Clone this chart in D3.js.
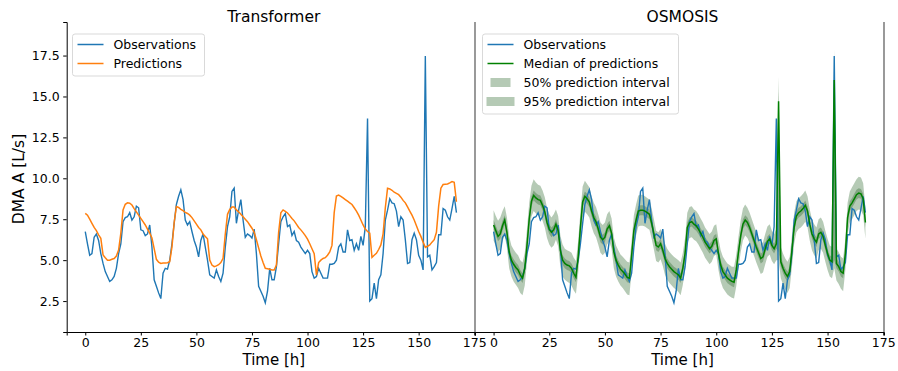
<!DOCTYPE html>
<html><head><meta charset="utf-8">
<script src="https://cdn.jsdelivr.net/npm/d3@7"></script>
<style>body{margin:0;background:#fff}svg{display:block;font-family:"DejaVu Sans",sans-serif}</style>
</head><body><svg id="c" width="898" height="371"></svg>
<script>
const hours = d3.range(168);
const xTicks = [0,25,50,75,100,125,150,175];
const yTicks = [2.5,5.0,7.5,10.0,12.5,15.0,17.5];
const observations = [6.74,6.0,5.3,5.4,6.4,6.6,6.2,5.4,4.8,4.3,
4.0,3.7,3.8,4.0,4.5,5.4,6.0,7.35,7.6,7.65,
7.9,7.45,7.65,8.3,8.2,6.85,6.8,6.5,6.6,7.15,
5.8,3.8,3.4,3.0,2.65,4.2,4.5,4.45,5.0,6.0,
7.25,8.4,8.9,9.3,8.7,7.45,7.15,7.35,6.75,6.2,
5.8,5.2,6.2,6.6,5.8,5.0,4.1,4.0,3.9,4.4,
4.0,3.7,4.2,5.8,7.05,7.65,9.2,9.4,7.25,8.05,
8.7,7.45,6.4,6.6,6.5,6.35,6.9,5.4,3.4,3.1,
2.8,2.4,3.1,4.5,3.8,3.8,4.6,6.0,7.35,7.65,
7.85,7.05,7.15,6.5,6.75,6.2,6.1,5.8,5.6,5.4,
5.6,5.4,4.3,3.9,4.0,4.5,4.2,3.9,3.9,3.9,
4.75,4.75,4.8,5.0,5.8,6.0,5.5,5.5,6.85,6.2,
6.25,5.6,6.0,5.6,6.45,5.9,7.05,13.65,2.5,2.65,
3.6,2.65,3.8,4.1,5.4,7.45,8.05,8.75,8.5,8.45,
8.0,7.05,7.65,7.45,6.25,4.8,4.85,6.25,6.65,6.25,
5.3,5.0,4.4,17.47,5.2,5.3,4.4,4.6,4.85,6.55,
6.55,8.15,8.05,7.65,7.45,8.15,8.9,7.9];
const transformerPred = [7.86,7.75,7.5,7.25,7.0,6.8,6.55,6.33,5.32,5.15,
5.0,5.0,5.05,5.1,5.25,5.62,6.64,8.07,8.41,8.5,
8.48,8.37,8.15,7.95,7.75,7.55,7.35,7.15,6.9,6.65,
6.35,5.7,5.05,4.88,4.8,4.82,4.83,4.84,4.9,5.8,
7.3,8.27,8.22,8.1,8.02,7.92,7.85,7.75,7.6,7.4,
7.2,7.0,6.85,6.6,6.45,6.3,5.01,4.7,4.6,4.65,
4.72,4.85,5.11,6.6,7.8,8.1,8.25,8.25,8.07,7.95,
7.8,7.65,7.5,7.35,7.15,6.95,6.7,6.25,5.75,5.25,
4.85,4.5,4.48,4.44,4.4,4.4,4.7,6.7,7.9,8.07,
7.98,7.88,7.72,7.55,7.4,7.2,7.0,6.85,6.68,6.5,
6.28,6.0,5.7,5.4,4.09,4.85,5.0,5.1,5.15,5.3,
5.5,5.9,7.9,8.92,8.98,8.9,8.8,8.7,8.6,8.5,
8.4,8.2,8.0,7.75,7.45,7.15,6.9,6.75,6.65,5.17,
5.3,5.42,5.65,5.93,6.6,8.2,9.39,9.35,9.27,9.15,
9.08,9.0,8.85,8.65,8.5,8.25,8.0,7.75,7.45,7.1,
6.75,6.45,6.1,5.78,5.85,5.93,6.1,6.25,6.7,8.3,
9.4,9.62,9.64,9.65,9.72,9.8,9.75,8.57];
const osmosisMedian = [7.15,6.8,6.45,6.6,7.1,7.45,6.7,5.5,5.0,4.75,
4.55,4.4,4.1,3.9,4.5,5.9,7.5,8.6,8.95,8.8,
8.7,8.65,8.35,7.95,7.3,6.9,6.7,6.85,7.2,6.8,
5.6,5.0,4.8,4.7,4.65,4.5,4.2,3.95,5.2,7.0,
8.55,8.9,8.75,8.55,8.0,7.6,7.35,6.9,6.4,6.25,
6.4,6.9,7.1,6.65,5.5,5.0,4.7,4.45,4.3,4.15,
3.95,3.9,5.3,6.8,7.45,8.0,8.05,8.05,8.0,7.9,
7.8,7.25,6.6,5.9,5.8,6.0,5.6,5.1,4.8,4.6,
4.45,4.3,4.2,4.1,3.9,4.5,5.4,7.0,7.3,7.35,
7.2,7.1,6.9,6.65,6.4,6.1,5.9,5.7,5.85,6.2,
6.3,5.4,4.7,4.3,4.1,3.9,3.8,3.7,3.65,4.4,
5.5,6.5,7.2,7.45,7.3,7.0,6.6,6.2,5.8,5.45,
5.1,5.2,5.7,6.15,6.3,5.9,5.7,6.0,14.7,4.9,
4.5,4.2,4.0,4.3,5.6,7.0,7.7,7.9,8.0,8.15,
8.35,8.0,7.2,6.6,6.3,6.1,6.6,6.7,6.45,5.9,
5.4,5.0,4.9,16.0,4.8,4.6,4.3,4.2,5.4,7.6,
8.3,8.5,8.75,9.0,9.1,9.05,8.75,7.3];
const upper95 = [8.05,7.7,7.4,7.6,8.0,8.3,7.6,6.45,5.9,5.65,
5.45,5.3,5.0,4.85,5.45,6.9,8.5,9.55,9.95,9.75,
9.6,9.55,9.25,8.85,8.2,7.8,7.6,7.8,8.1,7.7,
6.5,5.95,5.7,5.6,5.55,5.45,5.15,4.95,6.2,7.95,
9.5,9.85,9.65,9.45,8.9,8.5,8.25,7.8,7.3,7.15,
7.3,7.8,8.0,7.55,6.4,5.9,5.6,5.35,5.2,5.05,
4.9,4.85,6.2,7.75,8.4,8.95,9.0,9.0,8.9,8.8,
8.7,8.15,7.5,6.8,6.7,6.9,6.5,6.0,5.7,5.5,
5.35,5.2,5.1,5.0,4.85,5.45,6.35,7.9,8.25,8.3,
8.1,8.0,7.8,7.55,7.3,7.0,6.8,6.6,6.75,7.1,
7.2,6.3,5.6,5.2,5.0,4.8,4.7,4.6,4.6,5.35,
6.45,7.45,8.15,8.4,8.2,7.9,7.5,7.1,6.7,6.35,
6.0,6.1,6.6,7.05,7.2,6.8,6.6,6.9,16.2,5.8,
5.4,5.1,4.9,5.2,6.5,7.9,8.6,8.8,8.9,9.05,
9.25,8.9,8.1,7.5,7.2,7.0,7.5,7.6,7.35,6.8,
6.3,5.9,5.8,17.9,5.7,5.5,5.2,5.1,6.3,8.5,
9.2,9.45,9.7,9.95,10.1,10.05,9.7,8.2];
const lower95 = [6.2,5.85,5.5,5.65,6.15,6.5,5.75,4.5,4.0,3.7,
3.5,3.3,3.0,2.85,3.45,4.9,6.5,7.65,8.0,7.85,
7.75,7.7,7.4,7.0,6.35,5.95,5.75,5.9,6.25,5.85,
4.6,4.0,3.8,3.7,3.6,3.45,3.15,2.95,4.2,6.0,
7.6,7.95,7.8,7.6,7.05,6.65,6.4,5.95,5.45,5.3,
5.45,5.95,6.15,5.7,4.5,4.0,3.7,3.45,3.3,3.1,
2.9,2.85,4.3,5.8,6.5,7.05,7.1,7.1,7.05,6.95,
6.85,6.3,5.65,4.95,4.85,5.05,4.65,4.1,3.8,3.6,
3.45,3.3,3.2,3.05,2.85,3.5,4.4,6.0,6.35,6.4,
6.25,6.15,5.95,5.7,5.45,5.15,4.95,4.75,4.9,5.25,
5.35,4.4,3.7,3.3,3.1,2.9,2.8,2.7,2.65,3.4,
4.5,5.5,6.2,6.5,6.35,6.05,5.65,5.25,4.85,4.5,
4.15,4.25,4.75,5.2,5.35,4.95,4.75,5.0,5.0,3.9,
3.5,3.2,3.0,3.3,4.6,6.0,6.7,6.9,7.0,7.15,
7.35,7.0,6.2,5.6,5.3,5.1,5.6,5.7,5.45,4.9,
4.4,4.0,3.9,4.5,3.75,3.55,3.25,3.1,4.4,6.6,
7.3,7.5,7.75,8.0,8.1,8.05,7.75,6.3];
const upper50 = [7.45,7.1,6.75,6.9,7.4,7.75,7.0,5.8,5.3,5.05,
4.85,4.7,4.4,4.2,4.8,6.2,7.8,8.9,9.25,9.1,
9.0,8.95,8.65,8.25,7.6,7.2,7.0,7.15,7.5,7.1,
5.9,5.3,5.1,5.0,4.95,4.8,4.5,4.25,5.5,7.3,
8.85,9.2,9.05,8.85,8.3,7.9,7.65,7.2,6.7,6.55,
6.7,7.2,7.4,6.95,5.8,5.3,5.0,4.75,4.6,4.45,
4.25,4.2,5.6,7.1,7.75,8.3,8.35,8.35,8.3,8.2,
8.1,7.55,6.9,6.2,6.1,6.3,5.9,5.4,5.1,4.9,
4.75,4.6,4.5,4.4,4.2,4.8,5.7,7.3,7.6,7.65,
7.5,7.4,7.2,6.95,6.7,6.4,6.2,6.0,6.15,6.5,
6.6,5.7,5.0,4.6,4.4,4.2,4.1,4.0,3.95,4.7,
5.8,6.8,7.5,7.75,7.6,7.3,6.9,6.5,6.1,5.75,
5.4,5.5,6.0,6.45,6.6,6.2,6.0,6.3,15.3,5.2,
4.8,4.5,4.3,4.6,5.9,7.3,8.0,8.2,8.3,8.45,
8.65,8.3,7.5,6.9,6.6,6.4,6.9,7.0,6.75,6.2,
5.7,5.3,5.2,17.3,5.1,4.9,4.6,4.5,5.7,7.9,
8.6,8.8,9.05,9.3,9.4,9.35,9.05,7.6];
const lower50 = [6.85,6.5,6.15,6.3,6.8,7.15,6.4,5.2,4.7,4.45,
4.25,4.1,3.8,3.6,4.2,5.6,7.2,8.3,8.65,8.5,
8.4,8.35,8.05,7.65,7.0,6.6,6.4,6.55,6.9,6.5,
5.3,4.7,4.5,4.4,4.35,4.2,3.9,3.65,4.9,6.7,
8.25,8.6,8.45,8.25,7.7,7.3,7.05,6.6,6.1,5.95,
6.1,6.6,6.8,6.35,5.2,4.7,4.4,4.15,4.0,3.85,
3.65,3.6,5.0,6.5,7.15,7.7,7.75,7.75,7.7,7.6,
7.5,6.95,6.3,5.6,5.5,5.7,5.3,4.8,4.5,4.3,
4.15,4.0,3.9,3.8,3.6,4.2,5.1,6.7,7.0,7.05,
6.9,6.8,6.6,6.35,6.1,5.8,5.6,5.4,5.55,5.9,
6.0,5.1,4.4,4.0,3.8,3.6,3.5,3.4,3.35,4.1,
5.2,6.2,6.9,7.15,7.0,6.7,6.3,5.9,5.5,5.15,
4.8,4.9,5.4,5.85,6.0,5.6,5.4,5.7,5.5,4.6,
4.2,3.9,3.7,4.0,5.3,6.7,7.4,7.6,7.7,7.85,
8.05,7.7,6.9,6.3,6.0,5.8,6.3,6.4,6.15,5.6,
5.1,4.7,4.6,5.0,4.5,4.3,4.0,3.9,5.1,7.3,
8.0,8.2,8.45,8.7,8.8,8.75,8.45,7.0];

const svg = d3.select("#c");
const yTop = 22, yBot = 332;
const y = d3.scaleLinear().domain([0.61, 19.55]).range([yBot, yTop]);
const panels = [
  {x0: 66.7, x1: 475, title: "Transformer"},
  {x0: 475, x1: 884, title: "OSMOSIS"}
];
const C = {blue: "#1f77b4", orange: "#ff7f0e", green: "#008000", band: "#1f5e1f"};

panels.forEach((p, i) => {
  const x = d3.scaleLinear().domain([-8.35, 175.35]).range([p.x0, p.x1]);
  const g = svg.append("g");
  const clipId = "clip" + i;
  svg.append("clipPath").attr("id", clipId).append("rect")
    .attr("x", p.x0).attr("y", yTop).attr("width", p.x1 - p.x0).attr("height", yBot - yTop);
  const pg = g.append("g").attr("clip-path", `url(#${clipId})`);
  const line = arr => d3.line().x((d, k) => x(hours[k])).y(d => y(d))(arr);
  if (i === 0) {
    pg.append("path").attr("d", line(observations)).attr("fill", "none").attr("stroke", C.blue).attr("stroke-width", 1.4);
    pg.append("path").attr("d", line(transformerPred)).attr("fill", "none").attr("stroke", C.orange).attr("stroke-width", 1.5);
  } else {
    const area = (lo, hi) => d3.area().x((d, k) => x(hours[k])).y0((d, k) => y(lo[k])).y1((d, k) => y(hi[k]))(hours);
    pg.append("path").attr("d", area(lower95, upper95)).attr("fill", C.band).attr("fill-opacity", 0.33);
    pg.append("path").attr("d", area(lower50, upper50)).attr("fill", C.band).attr("fill-opacity", 0.33);
    pg.append("path").attr("d", line(observations)).attr("fill", "none").attr("stroke", C.blue).attr("stroke-width", 1.4);
    pg.append("path").attr("d", line(osmosisMedian)).attr("fill", "none").attr("stroke", C.green).attr("stroke-width", 1.5);
  }
  const xa = g.append("g").attr("transform", `translate(0,${yBot})`)
    .call(d3.axisBottom(x).tickValues(xTicks).tickFormat(d3.format("d")).tickSize(3.5).tickPadding(3));
  xa.select(".domain").attr("stroke", "#000").attr("stroke-width", 1);
  xa.selectAll("text").attr("font-size", 12.5).attr("font-family", "DejaVu Sans").attr("fill", "#000");
  g.append("text").attr("x", (p.x0 + p.x1) / 2 + 3).attr("y", 365).attr("text-anchor", "middle")
    .attr("font-size", 15).attr("fill", "#000").text("Time [h]");
  g.append("text").attr("x", (p.x0 + p.x1) / 2 + 3).attr("y", 22).attr("text-anchor", "middle")
    .attr("font-size", 15.5).attr("fill", "#000").text(p.title);
});

const ya = svg.append("g").attr("transform", `translate(${panels[0].x0},0)`)
  .call(d3.axisLeft(y).tickValues(yTicks).tickFormat(d3.format(".1f")).tickSize(3.5).tickPadding(3.5));
ya.select(".domain").attr("stroke", "#000").attr("stroke-width", 1);
ya.selectAll("text").attr("font-size", 12.5).attr("font-family", "DejaVu Sans").attr("fill", "#000");
svg.append("text").attr("transform", `translate(24,${(yTop + yBot) / 2 + 2}) rotate(-90)`)
  .attr("text-anchor", "middle").attr("font-size", 15.5).attr("fill", "#000").text("DMA A [L/s]");

[475, 884].forEach(xx => svg.append("line").attr("x1", xx).attr("x2", xx).attr("y1", yTop).attr("y2", yBot)
  .attr("stroke", "#808080").attr("stroke-width", 1.6));

function legend(x0, y0, w, items) {
  const g = svg.append("g");
  g.append("rect").attr("x", x0).attr("y", y0).attr("width", w).attr("height", items.length * 19 + 4)
    .attr("rx", 2.5).attr("fill", "#fff").attr("fill-opacity", 0.8).attr("stroke", "#d9d9d9");
  items.forEach((it, k) => {
    const cy = y0 + 10.5 + k * 19;
    if (it.type === "line") {
      g.append("line").attr("x1", x0 + 5).attr("x2", x0 + 31).attr("y1", cy).attr("y2", cy)
        .attr("stroke", it.color).attr("stroke-width", 1.5);
    } else {
      g.append("rect").attr("x", x0 + 5 + it.inset).attr("y", cy - 4.5).attr("width", 26 - 2 * it.inset).attr("height", 9)
        .attr("fill", C.band).attr("fill-opacity", 0.33);
    }
    g.append("text").attr("x", x0 + 41).attr("y", cy + 4.3).attr("font-size", 12.5).attr("fill", "#000").text(it.label);
  });
}
legend(72.5, 34, 132, [
  {type: "line", color: C.blue, label: "Observations"},
  {type: "line", color: C.orange, label: "Predictions"}
]);
legend(482.5, 34, 196, [
  {type: "line", color: C.blue, label: "Observations"},
  {type: "line", color: C.green, label: "Median of predictions"},
  {type: "patch", inset: 3, label: "50% prediction interval"},
  {type: "patch", inset: -1, label: "95% prediction interval"}
]);
</script></body></html>
